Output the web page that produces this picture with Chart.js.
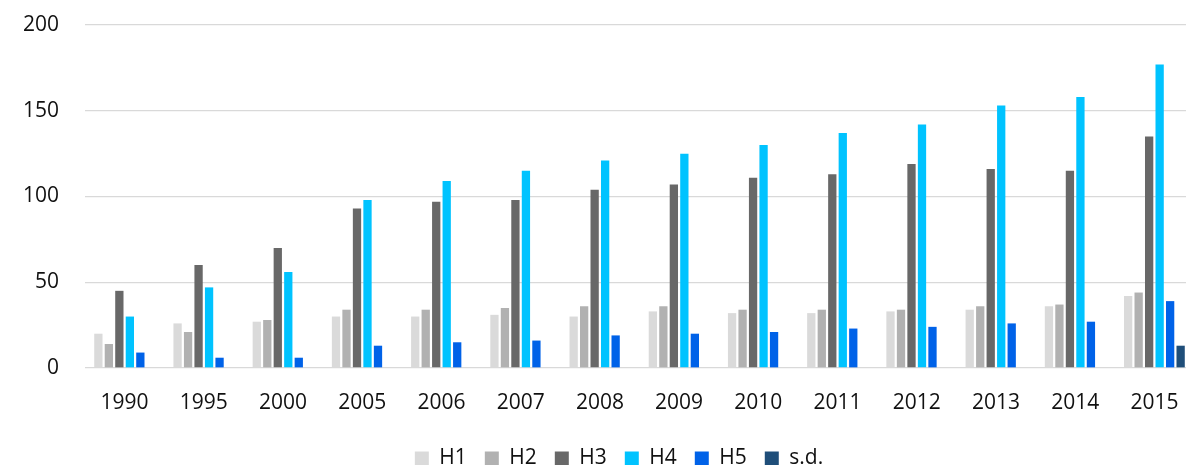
<!DOCTYPE html>
<html>
<head>
<meta charset="utf-8">
<script src="https://cdn.jsdelivr.net/npm/chart.js@4"></script>
<style>
  html, body { margin: 0; padding: 0; background: #fff; overflow: hidden; }
  #wrap { width: 1186px; height: 465px; overflow: hidden; position: relative; }
  #chart { display: block; }
</style>
</head>
<body>
<div id="wrap"><canvas id="chart" width="1238" height="479"></canvas></div>
<script>
// Values
const years = ['1990', '1995', '2000', '2005', '2006', '2007', '2008', '2009', '2010', '2011', '2012', '2013', '2014', '2015'];
const h1 = [20, 26, 27, 30, 30, 31, 30, 33, 32, 32, 33, 34, 36, 42];
const h2 = [14, 21, 28, 34, 34, 35, 36, 36, 34, 34, 34, 36, 37, 44];
const h3 = [45, 60, 70, 93, 97, 98, 104, 107, 111, 113, 119, 116, 115, 135];
const h4 = [30, 47, 56, 98, 109, 115, 121, 125, 130, 137, 142, 153, 158, 177];
const h5 = [9, 6, 6, 13, 15, 16, 19, 20, 21, 23, 24, 26, 27, 39];
const sd = [null, null, null, null, null, null, null, null, null, null, null, null, null, 13];
const yTicks = [0, 50, 100, 150, 200];

const seriesNames = ['H1', 'H2', 'H3', 'H4', 'H5', 's.d.'];
const seriesData = [h1, h2, h3, h4, h5, sd];
const seriesColors = ['#dadada', '#b1b1b1', '#686868', '#00c3ff', '#0062e8', '#1f4e79'];

const FONT = "'Open Sans', 'Liberation Sans', sans-serif";
const TEXT = '#111111';

// the original chart was cropped on the right, so its legend sits right of our centre
const legendShift = {
    id: 'legendShift',
    afterLayout(chart) {
        chart.legend.left += 22;
        chart.legend.right += 22;
    },
};

new Chart(document.getElementById('chart'), {
    type: 'bar',
    data: {
        labels: years,
        datasets: seriesNames.map((name, i) => ({
            label: name,
            data: seriesData[i],
            backgroundColor: seriesColors[i],
            borderWidth: 0,
            categoryPercentage: 0.795,
            barPercentage: 0.79,
        })),
    },
    options: {
        responsive: false,
        animation: false,
        layout: { padding: { top: 25, right: 44, left: 0, bottom: 0 } },
        plugins: {
            tooltip: { enabled: false },
            legend: {
                position: 'bottom',
                labels: {
                    color: TEXT,
                    font: { family: FONT, size: 21 },
                    boxWidth: 14,
                    boxHeight: 14,
                    padding: 18,
                },
            },
        },
        scales: {
            x: {
                grid: { display: false, drawTicks: false },
                border: { display: false },
                ticks: { color: TEXT, font: { family: FONT, size: 21 }, padding: 22, maxRotation: 0, autoSkip: false },
                afterFit: s => { s.height = 62; },
            },
            y: {
                min: 0,
                max: 200,
                afterBuildTicks: s => { s.ticks = yTicks.map(v => ({ value: v })); },
                grid: { color: '#d9d9d9', lineWidth: 1.3, drawTicks: false },
                border: { display: false },
                ticks: { color: TEXT, font: { family: FONT, size: 21 }, padding: 26 },
                afterFit: s => { s.width = 85; s.paddingTop = 0; s.paddingBottom = 0; },
            },
        },
    },
    plugins: [legendShift],
});
</script>
</body>
</html>
